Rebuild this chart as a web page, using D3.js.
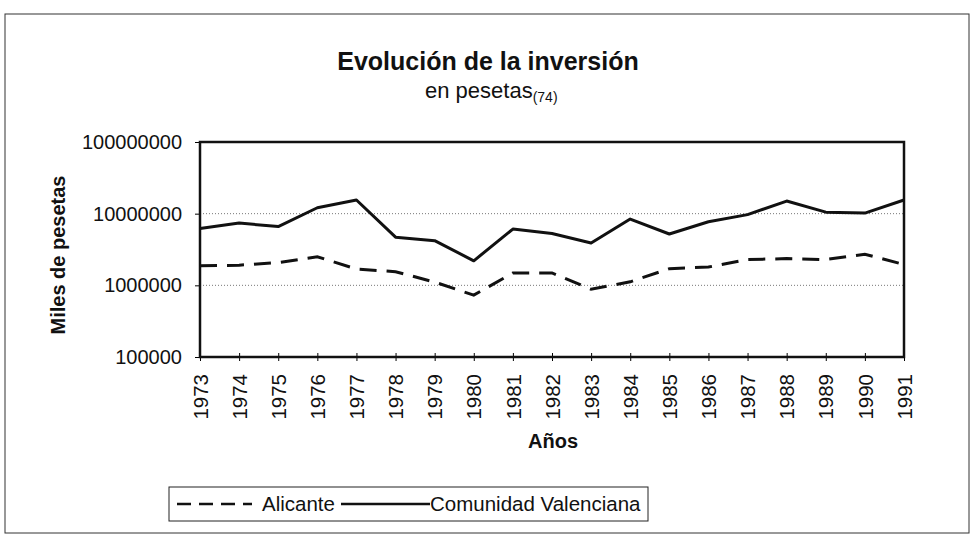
<!DOCTYPE html>
<html>
<head>
<meta charset="utf-8">
<title>Evolución de la inversión</title>
<script src="https://d3js.org/d3.v7.min.js"></script>
<style>
  body { margin: 0; background: #fff; }
  text { font-family: Arial, "Liberation Sans", sans-serif; fill: #111; }
</style>
</head>
<body>
<div id="chart"></div>
<script>
// data (miles de pesetas, log scale)
var years = [1973, 1974, 1975, 1976, 1977, 1978, 1979, 1980, 1981, 1982,
             1983, 1984, 1985, 1986, 1987, 1988, 1989, 1990, 1991];
var alicante = [1870000, 1910000, 2080000, 2500000, 1690000, 1550000, 1110000, 730000, 1490000, 1490000,
                880000, 1120000, 1710000, 1800000, 2290000, 2360000, 2290000, 2720000, 1950000];
var comunidad = [6200000, 7400000, 6600000, 12100000, 15500000, 4700000, 4200000, 2200000, 6100000, 5300000,
                 3900000, 8400000, 5200000, 7700000, 9700000, 15000000, 10500000, 10200000, 15500000];
var yTicks = [100000, 1000000, 10000000, 100000000];
var seriesNames = ["Alicante", "Comunidad Valenciana"];

var W = 972, H = 536;
var svg = d3.select("#chart").append("svg").attr("width", W).attr("height", H);

// outer frame
svg.append("rect")
    .attr("x", 5).attr("y", 14).attr("width", 964).attr("height", 519)
    .attr("fill", "none").attr("stroke", "#333").attr("stroke-width", 1);

var plot = { left: 200, right: 904, top: 142, bottom: 357 };

var x = d3.scaleLinear().domain([1973, 1991]).range([plot.left, plot.right]);
var y = d3.scaleLog().domain([100000, 100000000]).range([plot.bottom, plot.top]);

// gridlines
svg.append("g").selectAll("line")
    .data(yTicks.slice(1, 3))
    .enter().append("line")
    .attr("x1", plot.left).attr("x2", plot.right)
    .attr("y1", function (d) { return y(d); })
    .attr("y2", function (d) { return y(d); })
    .attr("stroke", "#777").attr("stroke-width", 1)
    .attr("stroke-dasharray", "1,2");

// y axis
var yAxis = svg.append("g")
    .attr("transform", "translate(" + plot.left + ",0)")
    .call(d3.axisLeft(y).tickValues(yTicks).tickFormat(d3.format("d")).tickSize(5).tickPadding(13));
yAxis.select(".domain").remove();
yAxis.selectAll("text").style("font-size", "20px").attr("fill", "#111");

// x axis
var xAxis = svg.append("g")
    .attr("transform", "translate(0," + plot.bottom + ")")
    .call(d3.axisBottom(x).tickValues(years).tickFormat(d3.format("d")).tickSize(5).tickPadding(8));
xAxis.select(".domain").remove();
xAxis.selectAll(".tick line").attr("y1", -4).attr("y2", 4);
xAxis.selectAll("text")
    .style("font-size", "20.5px")
    .attr("fill", "#111")
    .attr("transform", "rotate(-90)")
    .attr("x", -17).attr("y", 0)
    .attr("dy", "0.35em")
    .style("text-anchor", "end");

// plot border
svg.append("rect")
    .attr("x", plot.left).attr("y", plot.top)
    .attr("width", plot.right - plot.left).attr("height", plot.bottom - plot.top)
    .attr("fill", "none").attr("stroke", "#111").attr("stroke-width", 2.5);

var line = d3.line()
    .x(function (d, i) { return x(years[i]); })
    .y(function (d) { return y(d); });

svg.append("path")
    .datum(comunidad)
    .attr("d", line)
    .attr("fill", "none").attr("stroke", "#111").attr("stroke-width", 3)
    .attr("stroke-linejoin", "round");

svg.append("path")
    .datum(alicante)
    .attr("d", line)
    .attr("fill", "none").attr("stroke", "#111").attr("stroke-width", 3)
    .attr("stroke-dasharray", "17,10");

// titles
svg.append("text")
    .attr("x", 488).attr("y", 70)
    .style("text-anchor", "middle")
    .style("font-size", "25px").style("font-weight", "bold")
    .text("Evolución de la inversión");

var sub = svg.append("text")
    .attr("x", 425).attr("y", 98)
    .style("font-size", "22px");
sub.append("tspan").text("en pesetas");
sub.append("tspan").attr("dy", 4).style("font-size", "14px").text("(74)");

svg.append("text")
    .attr("transform", "translate(65,255) rotate(-90)")
    .style("text-anchor", "middle")
    .style("font-size", "20px").style("font-weight", "bold")
    .text("Miles de pesetas");

svg.append("text")
    .attr("x", 528).attr("y", 448)
    .style("font-size", "20px").style("font-weight", "bold")
    .text("Años");

// legend
var legend = svg.append("g");
legend.append("rect")
    .attr("x", 169).attr("y", 487).attr("width", 479).attr("height", 34)
    .attr("fill", "#fff").attr("stroke", "#222").attr("stroke-width", 1);
legend.append("line")
    .attr("x1", 177).attr("x2", 252).attr("y1", 504).attr("y2", 504)
    .attr("stroke", "#111").attr("stroke-width", 2.5)
    .attr("stroke-dasharray", "14,8");
legend.append("text")
    .attr("x", 262).attr("y", 511)
    .style("font-size", "20.5px")
    .text(seriesNames[0]);
legend.append("line")
    .attr("x1", 341).attr("x2", 430).attr("y1", 504).attr("y2", 504)
    .attr("stroke", "#111").attr("stroke-width", 2.5);
legend.append("text")
    .attr("x", 430).attr("y", 511)
    .style("font-size", "20.5px")
    .text(seriesNames[1]);
</script>
</body>
</html>
